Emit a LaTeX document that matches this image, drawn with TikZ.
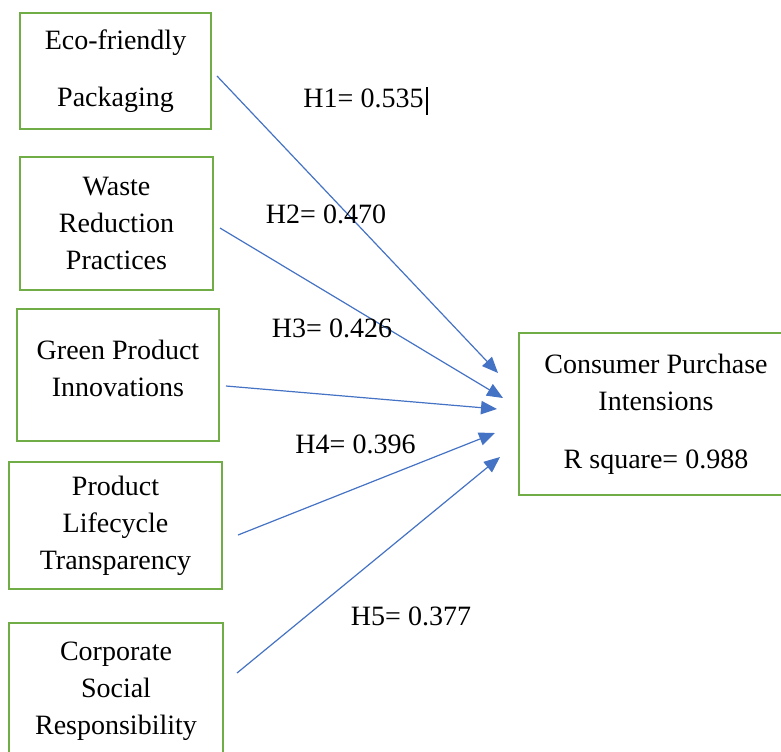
\documentclass[tikz,border=0pt]{standalone}
\usepackage{fontspec}
\setmainfont{Liberation Serif}
\usepackage{xcolor}
\usetikzlibrary{arrows.meta, positioning}

\definecolor{boxgreen}{HTML}{70AD47}
\definecolor{pathblue}{HTML}{4472C4}

\tikzset{
  factor/.style={draw=boxgreen, line width=2pt, rectangle, align=center,
    inner sep=0pt, font=\fontsize{21}{27.75}\selectfont},
  hyp/.style={font=\fontsize{21}{27.75}\selectfont, inner sep=0pt},
  path/.style={pathblue, line width=0.9pt, -{Triangle[length=12pt, width=10pt]}}
}

\begin{document}
\begin{tikzpicture}[x=0.75pt, y=-0.75pt]
        \useasboundingbox (0,0) rectangle (781,751);
        \clip (0,0) rectangle (781,751);
        % left side: the five constructs
        \node[factor, minimum width=143.25pt, minimum height=87pt] (efp) at (115.5,71)
          {Eco-friendly\\[15pt]Packaging};
        \node[factor, minimum width=144.75pt, minimum height=99.75pt] (wrp) at (116.5,223.5)
          {Waste\\Reduction\\Practices};
        \node[factor, minimum width=151.5pt, minimum height=99pt] (gpi) at (118,375) {};
        \node[hyp, align=center] (gpitxt) at (118,368) {Green Product\\Innovations};
        \node[factor, minimum width=159.75pt, minimum height=95.25pt] (plt) at (115.5,525.5)
          {Product\\Lifecycle\\Transparency};
        \node[factor, minimum width=160.5pt, minimum height=102.75pt] (csr) at (116,691.5)
          {Corporate\\Social\\Responsibility};
        % right side: outcome
        \node[factor, minimum width=205.5pt, minimum height=121.5pt] (cpi) at (656,414)
          {Consumer Purchase\\Intensions\\[15.75pt]R square= 0.988};
        % path ends
        \coordinate (s1) at (217,76);  \coordinate (t1) at (498,373);
        \coordinate (s2) at (220,228); \coordinate (t2) at (503,398);
        \coordinate (s3) at (226,386); \coordinate (t3) at (497,409);
        \coordinate (s4) at (238,535); \coordinate (t4) at (495,433);
        \coordinate (s5) at (237,673); \coordinate (t5) at (500,457);
        \draw[path] (s1) -- (t1);
        \draw[path] (s2) -- (t2);
        \draw[path] (s3) -- (t3);
        \draw[path] (s4) -- (t4);
        \draw[path] (s5) -- (t5);
        % coefficients
        \node[hyp] (h1) at (363.5,98) {H1= 0.535};
        \draw[line width=0.8pt] (427,87) -- (427,115);
        \node[hyp] (h2) at (326,214) {H2= 0.470};
        \node[hyp] (h3) at (332,328) {H3= 0.426};
        \node[hyp] (h4) at (355.5,444) {H4= 0.396};
        \node[hyp] (h5) at (411,616) {H5= 0.377};
      \end{tikzpicture}
\end{document}
